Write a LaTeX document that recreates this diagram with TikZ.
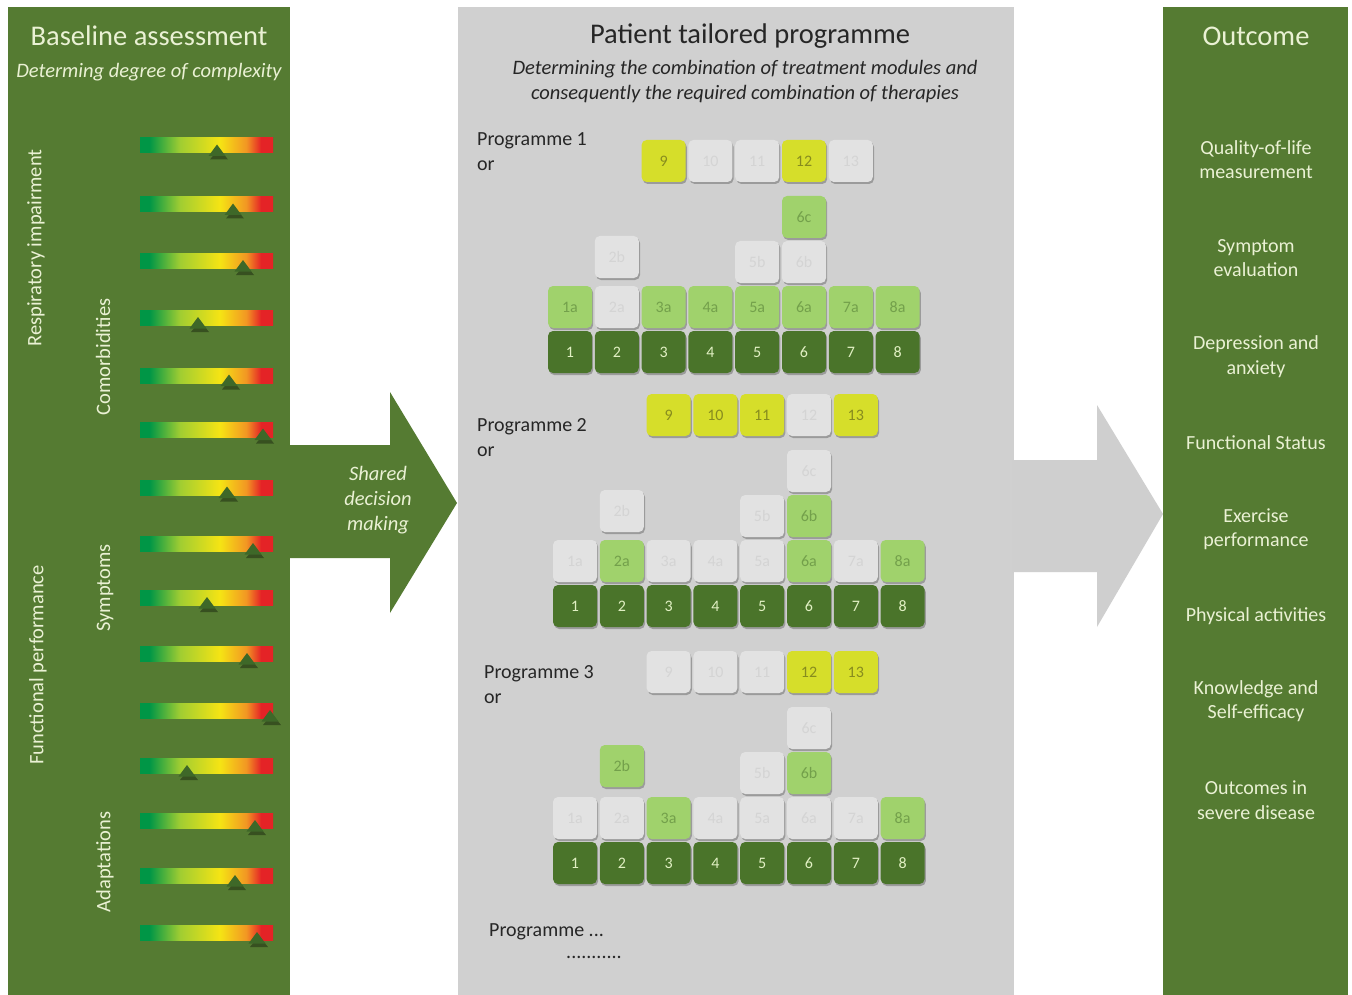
\documentclass[tikz,border=0pt]{standalone}
\usepackage{fontspec}
\setmainfont{Carlito}
\usetikzlibrary{shadows}
\definecolor{pgreen}{RGB}{85,123,50}
\definecolor{mgray}{RGB}{208,208,208}
\definecolor{agray}{RGB}{207,207,207}
\definecolor{dkbox}{RGB}{74,116,42}
\definecolor{dktext}{RGB}{225,240,195}
\definecolor{ltbox}{RGB}{160,210,108}
\definecolor{lttext}{RGB}{115,160,75}
\definecolor{ylbox}{RGB}{214,222,42}
\definecolor{yltext}{RGB}{135,140,30}
\definecolor{fdbox}{RGB}{226,226,226}
\definecolor{fdtext}{RGB}{212,212,212}
\definecolor{cream}{RGB}{234,241,212}
\definecolor{mkgreen}{RGB}{62,104,40}
\definecolor{bgA}{RGB}{0,150,70}
\definecolor{bgB}{RGB}{160,205,50}
\definecolor{bgC}{RGB}{245,228,20}
\definecolor{bgD}{RGB}{242,150,35}
\definecolor{bgE}{RGB}{228,35,38}
\pgfdeclarehorizontalshading{riskbar}{100bp}{color(0bp)=(bgA); color(25bp)=(bgA); color(28.5bp)=(bgA); color(40bp)=(bgB); color(55bp)=(bgC); color(65bp)=(bgD); color(70.5bp)=(bgE); color(75bp)=(bgE); color(100bp)=(bgE)}
\begin{document}
\begin{tikzpicture}[x=1pt,y=-1pt,
  kind/.code={\edef\mykindtmp{#1}\expandafter\pgfkeysalso\expandafter{\mykindtmp}},
  modbox/.style={rounded corners=5pt, minimum width=44pt, minimum height=42pt, inner sep=0pt,
    font=\fontsize{16}{16}\selectfont,
    drop shadow={shadow xshift=1.2pt, shadow yshift=-2pt, opacity=0.25, fill=black}},
  dk/.style={modbox, fill=dkbox, text=dktext},
  lt/.style={modbox, fill=ltbox, text=lttext},
  yl/.style={modbox, fill=ylbox, text=yltext},
  fd/.style={modbox, fill=fdbox, text=fdtext},
  title/.style={font=\fontsize{28.5}{30}\selectfont},
  subt/.style={font=\fontsize{20.5}{25}\selectfont\itshape, align=center},
  item/.style={font=\fontsize{20}{24.5}\selectfont, align=center, text=cream},
  prog/.style={font=\fontsize{20}{25}\selectfont, align=left, anchor=north west, inner sep=0pt, text=black!85},
  side/.style={font=\fontsize{20.5}{22}\selectfont, rotate=90, text=cream}]
\useasboundingbox (0,0) rectangle (1352,995);
\fill[white] (0,0) rectangle (1352,995);
% panels
\fill[pgreen] (8,7) rectangle (290,995);
\fill[mgray] (458,7) rectangle (1014,995);
\fill[pgreen] (1163,7) rectangle (1348,995);
% arrows
\fill[pgreen] (288,445) -- (390,445) -- (390,392) -- (457,503) -- (390,613) -- (390,558) -- (288,558) -- cycle;
\fill[agray] (1012,460) -- (1097,460) -- (1097,405) -- (1163,514) -- (1097,627) -- (1097,572) -- (1012,572) -- cycle;
% left panel
\node[title, text=cream] (lt) at (149,36) {Baseline assessment};
\node[subt, text=cream] (ls) at (149,72) {Determing degree of complexity};
\node[side] (s1) at (36,248) {Respiratory impairment};
\node[side] (s2) at (103,357) {Comorbidities};
\node[side] (s3) at (38,665) {Functional performance};
\node[side] (s4) at (105,588) {Symptoms};
\node[side] (s5) at (105,862) {Adaptations};
\foreach \yc/\tx in {145.5/217,204.5/233,261/243,318/198,375.5/229,429.5/263,487.5/227,544/253,598/207,654/247,711/270,766/187,821/255,876/235,933/257}{
  \shade[shading=riskbar] (140,\yc-7.5) rectangle (273,\yc+7.5);
  \fill[black, opacity=0.35] (\tx+2,\yc+3) -- (\tx+11,\yc+14) -- (\tx-7,\yc+14) -- cycle;
  \fill[mkgreen] (\tx,\yc-1) -- (\tx+8.5,\yc+10.5) -- (\tx-8.5,\yc+10.5) -- cycle;
}
\node[subt, text=cream] (sdm) at (378,500) {Shared\\decision\\making};
% middle panel
\node[title, text=black!85] (mt) at (750,36) {Patient tailored programme};
\node[subt, text=black!85] (ms) at (745,82) {Determining the combination of treatment modules and\\consequently the required combination of therapies};
\node[prog] (p1) at (477,132) {Programme 1\\or};
\node[prog] (p2) at (477,418) {Programme 2\\or};
\node[prog] (p3) at (484,665) {Programme 3\\or};
\node[prog] (p4) at (489,923) {Programme ...};
\node[font=\fontsize{20}{20}\selectfont, text=black!85] (p5) at (594,957) {...........};
% Programme 1 (X=570, D=352)
\foreach \c/\k/\l in {3/yl/9,4/fd/10,5/fd/11,6/yl/12,7/fd/13}
  \node[kind=\k] (pA-\l) at ({570+(\c-1)*46.8},161) {\l};
\node[kind=lt] (pA-6c) at ({570+5*46.8},217) {6c};
\foreach \c/\k/\l/\yy in {2/fd/2b/257,5/fd/5b/262,6/fd/6b/262}
  \node[kind=\k] (pA-\l) at ({570+(\c-1)*46.8},\yy) {\l};
\foreach \c/\k/\l in {1/lt/1a,2/fd/2a,3/lt/3a,4/lt/4a,5/lt/5a,6/lt/6a,7/lt/7a,8/lt/8a}
  \node[kind=\k] (pA-\l) at ({570+(\c-1)*46.8},307) {\l};
\foreach \c in {1,...,8}
  \node[kind=dk] (pA-\c) at ({570+(\c-1)*46.8},352) {\c};
% Programme 2 (X=575, D=606)
\foreach \c/\k/\l in {3/yl/9,4/yl/10,5/yl/11,6/fd/12,7/yl/13}
  \node[kind=\k] (pB-\l) at ({575+(\c-1)*46.8},415) {\l};
\node[kind=fd] (pB-6c) at ({575+5*46.8},471) {6c};
\foreach \c/\k/\l/\yy in {2/fd/2b/511,5/fd/5b/516,6/lt/6b/516}
  \node[kind=\k] (pB-\l) at ({575+(\c-1)*46.8},\yy) {\l};
\foreach \c/\k/\l in {1/fd/1a,2/lt/2a,3/fd/3a,4/fd/4a,5/fd/5a,6/lt/6a,7/fd/7a,8/lt/8a}
  \node[kind=\k] (pB-\l) at ({575+(\c-1)*46.8},561) {\l};
\foreach \c in {1,...,8}
  \node[kind=dk] (pB-\c) at ({575+(\c-1)*46.8},606) {\c};
% Programme 3 (X=575, D=863)
\foreach \c/\k/\l in {3/fd/9,4/fd/10,5/fd/11,6/yl/12,7/yl/13}
  \node[kind=\k] (pC-\l) at ({575+(\c-1)*46.8},672) {\l};
\node[kind=fd] (pC-6c) at ({575+5*46.8},728) {6c};
\foreach \c/\k/\l/\yy in {2/lt/2b/766,5/fd/5b/773,6/lt/6b/773}
  \node[kind=\k] (pC-\l) at ({575+(\c-1)*46.8},\yy) {\l};
\foreach \c/\k/\l in {1/fd/1a,2/fd/2a,3/lt/3a,4/fd/4a,5/fd/5a,6/fd/6a,7/fd/7a,8/lt/8a}
  \node[kind=\k] (pC-\l) at ({575+(\c-1)*46.8},818) {\l};
\foreach \c in {1,...,8}
  \node[kind=dk] (pC-\c) at ({575+(\c-1)*46.8},863) {\c};
% right panel
\node[title, text=cream] (rt) at (1256,36) {Outcome};
\node[item] (o1) at (1256,159.5) {Quality-of-life\\measurement};
\node[item] (o2) at (1256,258) {Symptom\\evaluation};
\node[item] (o3) at (1256,356.5) {Depression and\\anxiety};
\node[item] (o4) at (1256,443) {Functional Status};
\node[item] (o5) at (1256,529) {Exercise\\performance};
\node[item] (o6) at (1256,616) {Physical activities};
\node[item] (o7) at (1256,701) {Knowledge and\\Self-efficacy};
\node[item] (o8) at (1256,800) {Outcomes in\\severe disease};
\end{tikzpicture}
\end{document}
